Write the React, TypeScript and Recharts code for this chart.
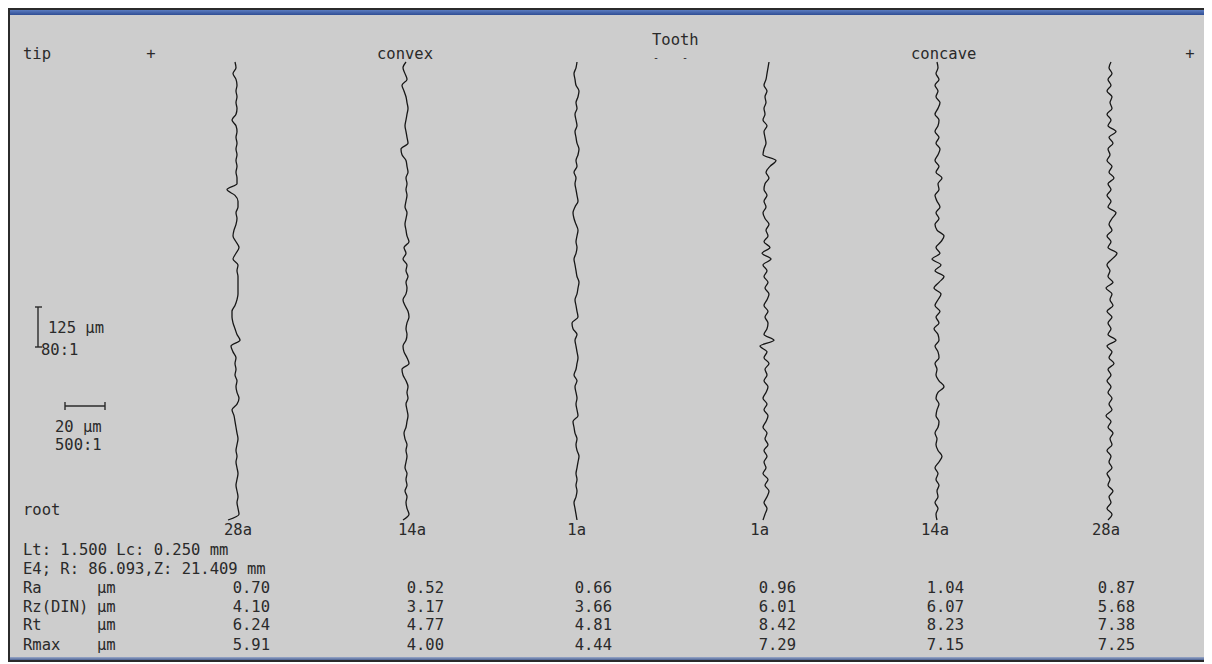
import React from 'react';
import { LineChart, Line, XAxis, YAxis, Customized } from 'recharts';

// profile deviation from mean line (µm), sampled tip -> root over Lt = 1.5 mm
const convex28a = [
  -4, 1.5, 1, 0.5, 1, 0.5, 0, 0.5, 1, 0.5, 0, 0.5, 0, 0.5, 1, 0.5, 0, -0.5, -1, -2,
  0.5, 1.5, 0.5, 0, 0.5, -0.5, 0, -0.5, 0, -1.5, -2.5, 2, 0.5, -0.5, -1.5, -2, -2, -0.5, 0.5, 1,
  1, 1, 1, 0.5, 1, -1.5, 0, 1.5, 0, -1.5, -1, 0, 0.5, 0, 1, 1, -0.5, -4.5, 0.5, 0.5,
  0, 0.5, 0, 0.5, 0, 0.5, 0, 0.5, 0, -2, 0, 0.5, 0, 0.5, 0, 0.5, 0, -1.5, 0, -0.5,
];
const convex14a = [
  -1.5, 1.5, 0.5, 0, 0.5, -0.5, 0.5, 0, 0.5, -0.5, 0, 0.5, 0, 0.5, -0.5, -1, 0, 0.5, 1, 0.5,
  0, 1, 0.5, 1, 0, -1.5, -2, 1.5, 0.5, -1, -1.5, 0, 0.5, 0, 0.5, 1.5, 1, -0.5, -1.5, 0,
  0.5, 0, 1, 0, 0.5, -1.5, 0, -1, 1.5, 0.5, 0, -0.5, 0, 0.5, -0.5, 0, 0.5, 0, 0.5, 0,
  1, 0.5, 0, -2, -2.5, 1, 0.5, 0, -0.5, 0, 0.5, 1, 0.5, 0, -1, -2, 0.5, -0.5, -1.5, 0,
];
const convex1a = [
  0.5, 0, -0.5, -1, 0, 0.5, 0, 0.5, 0, 0.5, 1, 1.5, 0.5, 0, 0.5, -0.5, -1, -1.5, 1, 0.5,
  0, 0.5, 0, -0.5, 0.5, -1, 0, 0.5, 1, 0.5, 0, -0.5, 0.5, -1.5, -2, 1, 0.5, 0, -0.5, 0.5,
  1, 1.5, 0.5, 0, -0.5, -1, 0, 0.5, 0, 0.5, 1, 0, -1, -1.5, -0.5, 1, 0.5, 0, -0.5, 0,
  -1, 0.5, 0, 1, 1.5, 0.5, 0, -0.5, 0.5, 0, -0.5, 0.5, 0, 1, 1.5, 0, -0.5, -1, 0, 0.5,
];
const concave1a = [
  -1.5, -0.5, 0.5, -1, 0.5, 1.5, -0.5, 1, -1.5, 0, -1, 0.5, -1, 1, -0.5, 0.5, -1.5, 0, 1, -1,
  0.5, -1.5, 0, 1, -1, 0.5, -0.5, 1.5, -1, 0.5, -3, 4, -1, 0.5, 1, -0.5, 1, -1, 0.5, 1.5,
  -0.5, 1, -1, 0.5, -1.5, 2.5, -2, 2, -1, 1, 0, 1.5, -0.5, -1.5, 0, -1, 0.5, -1, -0.5, 1.5,
  0, 2, 5, -1.5, -1, 0, -0.5, -1, 0.5, -1.5, -0.5, -1, 0, -0.5, 0.5, -1, 0, 0.5, 1, 1.5,
];
const concave14a = [
  0, -0.5, 0.5, -1, 0.5, 0, 1, -0.5, 0.5, -1, 1, 2.5, 0.5, -0.5, 0, -1, 0.5, 1, -0.5, 0,
  1, -0.5, 0.5, 3.5, 1, -0.5, 0, -1, 1, 0.5, -1, 1, 0.5, -1.5, 1, -0.5, 1.5, -1, 0.5, 2,
  -1.5, 1, 3.5, -1, 2, -2.5, 1.5, -0.5, 2, 3.5, 0, -1, 1, -0.5, 1.5, 0, -1, 1, 0.5, 2.5,
  -0.5, 1, -1, 0.5, 1.5, -0.5, 1, -1, 0.5, 1, -1, 0.5, 1.5, -0.5, 0.5, -1, 1, -0.5, 0.5, 0,
];
const concave28a = [
  -1, 1, -1.5, 0.5, -0.5, 1.5, -1, 0, -1.5, 1, -0.5, 0.5, -1.5, 1, 0, 1.5, -1, 0.5, -2, 1,
  -0.5, 1, -1, 0.5, -1.5, 0.5, -1, 2, -0.5, 1, -1.5, 3, -1, 0.5, -1, 1, -1.5, 1.5, 0, 1,
  -2, 1.5, -1, 0, -1.5, 1, 3.5, -1, 0.5, -1.5, 1, -0.5, 1, 3, -1, 0.5, -1.5, 0.5, -1, 2,
  -0.5, 1, -1.5, 0, -1, 1.5, -0.5, 3, -1, 0.5, -1.5, 1, 0, 1, -1.5, 0.5, -1, 1, -0.5, 0.5,
];

const profiles = [convex28a, convex14a, convex1a, concave1a, concave14a, concave28a];
const profileLabels = ['28a', '14a', '1a', '1a', '14a', '28a'];

const raValues = [0.7, 0.52, 0.66, 0.96, 1.04, 0.87];
const rzValues = [4.1, 3.17, 3.66, 6.01, 6.07, 5.68];
const rtValues = [6.24, 4.77, 4.81, 8.42, 8.23, 7.38];
const rmaxValues = [5.91, 4.0, 4.44, 7.29, 7.15, 7.25];

const LT = 1.5; // mm

// layout
const W = 1198;
const H = 654;
const PX_PER_UM = 2;
const traceX = [228, 398, 568, 758, 929, 1102];
const labelEnd = [244, 418, 578, 761, 941, 1112];
const valueEnd = [262, 436, 604, 788, 956, 1127];

const rows = profiles[0].map((_, i) => {
  const row: any = { pos: (i * LT) / (profiles[0].length - 1) };
  profiles.forEach((p, k) => (row['p' + k] = p[i]));
  return row;
});

const font = { fontFamily: '"DejaVu Sans Mono", monospace', fontSize: 15.5, fill: '#2a2a2a' };

const Overlay = () => {
  const tableRows: [string, number[], number][] = [
    ['Ra', raValues, 585],
    ['Rz(DIN)', rzValues, 604],
    ['Rt', rtValues, 622],
    ['Rmax', rmaxValues, 642],
  ];
  return (
    <g>
      <text x={644} y={37} {...font}>Tooth</text>
      <text x={15} y={51} {...font}>tip</text>
      <text x={143} y={51} textAnchor="middle" {...font}>+</text>
      <text x={369} y={51} {...font}>convex</text>
      <text x={648} y={53} textAnchor="middle" {...font} fontSize={10}>-</text>
      <text x={677} y={53} textAnchor="middle" {...font} fontSize={10}>-</text>
      <text x={903} y={51} {...font}>concave</text>
      <text x={1182} y={51} textAnchor="middle" {...font}>+</text>

      <g stroke="#2a2a2a" strokeWidth={1.4}>
        <line x1={30} y1={299} x2={30} y2={339} />
        <line x1={27} y1={299} x2={34} y2={299} />
        <line x1={27} y1={339} x2={34} y2={339} />
        <line x1={57} y1={398} x2={97} y2={398} />
        <line x1={57} y1={394} x2={57} y2={402} />
        <line x1={97} y1={394} x2={97} y2={402} />
      </g>
      <text x={40} y={325} {...font}>125 µm</text>
      <text x={33} y={347} {...font}>80:1</text>
      <text x={47} y={424} {...font}>20 µm</text>
      <text x={47} y={442} {...font}>500:1</text>
      <text x={15} y={507} {...font}>root</text>

      {profileLabels.map((l, i) => (
        <text key={'l' + i} x={labelEnd[i]} y={527} textAnchor="end" {...font}>{l}</text>
      ))}
      <text x={15} y={547} {...font}>Lt: 1.500 Lc: 0.250 mm</text>
      <text x={15} y={566} {...font}>E4; R: 86.093,Z: 21.409 mm</text>
      {tableRows.map(([name, vals, y]) => (
        <g key={name}>
          <text x={15} y={y} {...font}>{name}</text>
          <text x={89} y={y} {...font}>µm</text>
          {vals.map((v, i) => (
            <text key={i} x={valueEnd[i]} y={y} textAnchor="end" {...font}>{v.toFixed(2)}</text>
          ))}
        </g>
      ))}
    </g>
  );
};

export default function App() {
  return (
    <div
      style={{
        position: 'relative',
        width: W,
        height: H,
        background: '#cdcdcd',
        boxShadow: 'inset 0 0 0 2px #2b2b2b',
      }}
    >
      <div style={{ position: 'absolute', left: 2, right: 2, top: 2, height: 5, background: 'linear-gradient(#5b7cc0, #2f4d94)' }} />
      <div style={{ position: 'absolute', left: 2, right: 2, bottom: 2, height: 3, background: 'linear-gradient(#9aa8c8, #4d6496)' }} />
      <div style={{ position: 'absolute', left: 0, top: 0 }}>
        <LineChart
          width={W}
          height={H}
          data={rows}
          layout="vertical"
          margin={{ top: 54, right: 0, bottom: 142, left: 0 }}
        >
          <YAxis type="number" dataKey="pos" domain={[0, LT]} reversed hide />
          {traceX.map((cx, k) => (
            <XAxis
              key={k}
              xAxisId={k}
              type="number"
              domain={[-cx / PX_PER_UM, (W - cx) / PX_PER_UM]}
              allowDataOverflow
              hide
            />
          ))}
          {profiles.map((_, k) => (
            <Line
              key={k}
              xAxisId={k}
              dataKey={'p' + k}
              stroke="#161616"
              strokeWidth={1.3}
              dot={false}
              activeDot={false}
              isAnimationActive={false}
              type="monotone"
            />
          ))}
          <Customized component={Overlay} />
        </LineChart>
      </div>
    </div>
  );
}
